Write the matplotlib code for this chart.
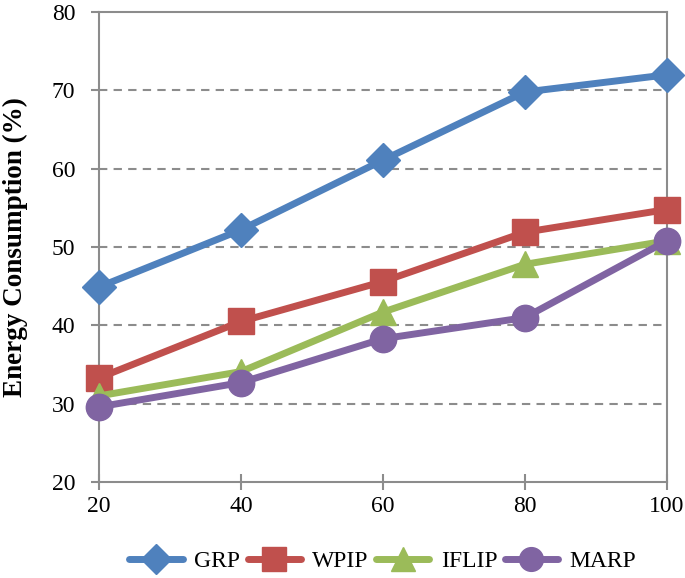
import matplotlib
matplotlib.use("Agg")
import matplotlib.pyplot as plt

x = [20, 40, 60, 80, 100]
grp = [44.9, 52.2, 61.1, 69.8, 72.0]
wpip = [33.3, 40.5, 45.6, 51.9, 54.8]
iflip = [31.0, 34.1, 41.7, 47.8, 50.8]
marp = [29.6, 32.7, 38.3, 41.0, 50.8]
yticks = [20, 30, 40, 50, 60, 70, 80]

plt.rcParams['font.family'] = ['Liberation Serif', 'DejaVu Serif']

fig = plt.figure(figsize=(6.85, 5.78), dpi=100)
ax = fig.add_axes([0.1445, 0.166, 0.829, 0.813])

series = [("GRP", grp, "#4F81BD", "D", 17),
          ("WPIP", wpip, "#C0504D", "s", 19),
          ("IFLIP", iflip, "#9BBB59", "^", 19),
          ("MARP", marp, "#8064A2", "o", 19)]
for name, vals, col, mk, ms in series:
    ax.plot(x, vals, color=col, lw=5, marker=mk, markersize=ms,
            markeredgecolor=col, label=name, solid_capstyle='round',
            solid_joinstyle='round', clip_on=False, zorder=3)

ax.set_xlim(20, 100)
ax.set_ylim(20, 80)
ax.set_xticks(x)
ax.set_yticks(yticks)
for y in yticks[1:-1]:
    ax.axhline(y, color="#8c8c8c", lw=1.5, ls=(0, (4, 3)), zorder=1)
for s in ax.spines.values():
    s.set_color("#8c8c8c")
    s.set_linewidth(1.5)
ax.tick_params(axis='y', direction='out', length=6, width=1.5, color="#8c8c8c",
               labelsize=17, pad=11)
ax.tick_params(axis='x', direction='inout', length=12, width=1.5, color="#8c8c8c",
               labelsize=17, pad=4)
ax.set_ylabel("Energy Consumption (%)", fontsize=19.5, fontweight='bold', labelpad=17)

leg = ax.legend(loc='upper center', bbox_to_anchor=(0.5, -0.1), ncol=4,
                frameon=False, fontsize=17, handlelength=2.25, columnspacing=0.3,
                handletextpad=0.5, markerscale=0.9)
for h in leg.legend_handles:
    h.set_solid_capstyle('round')
fig.savefig("out.png", dpi=100)
